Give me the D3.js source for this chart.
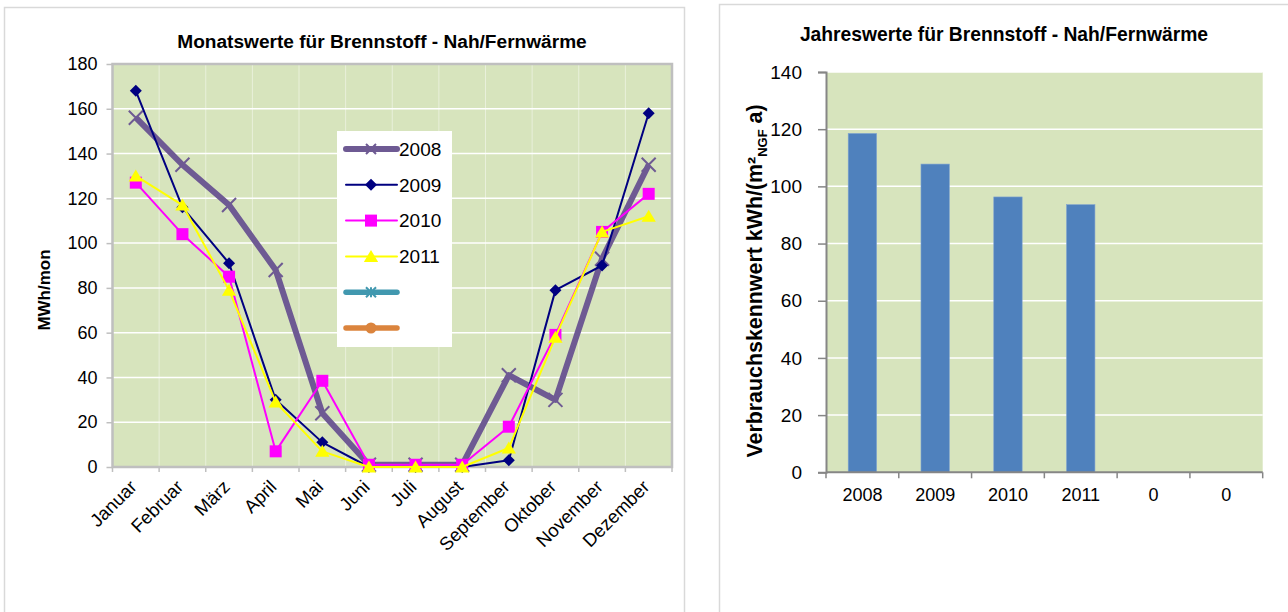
<!DOCTYPE html>
<html>
<head>
<meta charset="utf-8">
<script src="https://cdn.jsdelivr.net/npm/d3@7"></script>
<style>
  html, body { margin: 0; padding: 0; background: #ffffff; }
  svg { display: block; }
  text { font-family: Arial, "Liberation Sans", sans-serif; }
</style>
</head>
<body>
<svg id="chart" width="1288" height="612"></svg>
<script>
// ---- monthly district-heating consumption (MWh/mon) ----
const months = ["Januar", "Februar", "März", "April", "Mai", "Juni", "Juli",
                "August", "September", "Oktober", "November", "Dezember"];
const values2008 = [156, 135, 117, 88, 24, 1, 1, 1, 41, 30, 93, 135];
const values2009 = [168, 116, 91, 30, 11, 0, 0, 0, 3, 79, 90, 158];
const values2010 = [127, 104, 85, 7, 38.5, 1, 1, 1, 18, 59, 105, 122];
const values2011 = [130, 117, 79, 29, 7, 0, 0, 0, 8.5, 58, 105, 112];
const monthTicks = [0, 20, 40, 60, 80, 100, 120, 140, 160, 180];
const legendLabels = ["2008", "2009", "2010", "2011", "", ""];

// ---- yearly consumption index kWh/(m² NGF a) ----
const yearLabels = ["2008", "2009", "2010", "2011", "0", "0"];
const yearValues = [118.5, 107.8, 96.3, 93.6, 0, 0];
const yearTicks = [0, 20, 40, 60, 80, 100, 120, 140];

const svg = d3.select("#chart");
const plotFill = "#D7E4BD";

// chart frames
svg.append("rect").attr("x", 4.5).attr("y", 7.5).attr("width", 680).attr("height", 620)
  .attr("fill", "#fff").attr("stroke", "#d9d9d9").attr("stroke-width", 1.5);
svg.append("rect").attr("x", 719.5).attr("y", 4.5).attr("width", 620).attr("height", 620)
  .attr("fill", "#fff").attr("stroke", "#d9d9d9").attr("stroke-width", 1.5);

// ================= monthly line chart =================
const L = { x0: 112.5, x1: 672, y0: 64, y1: 467 };
const xM = d3.scaleBand().domain(months).range([L.x0, L.x1]).padding(0);
const yM = d3.scaleLinear().domain([0, 180]).range([L.y1, L.y0]);
const cx = m => xM(m) + xM.bandwidth() / 2;

const left = svg.append("g");
left.append("text").attr("x", 382).attr("y", 48).attr("text-anchor", "middle")
  .attr("font-weight", "bold").attr("font-size", 19.1)
  .text("Monatswerte für Brennstoff - Nah/Fernwärme");

left.append("rect").attr("x", L.x0).attr("y", L.y0)
  .attr("width", L.x1 - L.x0).attr("height", L.y1 - L.y0).attr("fill", plotFill);

// vertical category grid (faint) and horizontal value grid
left.append("g").selectAll("line").data(months.slice(1)).join("line")
  .attr("x1", d => xM(d)).attr("x2", d => xM(d))
  .attr("y1", L.y0).attr("y2", L.y1)
  .attr("stroke", "#ffffff").attr("stroke-opacity", 0.45).attr("stroke-width", 1);
left.append("g").selectAll("line").data(monthTicks.slice(1, -1)).join("line")
  .attr("x1", L.x0).attr("x2", L.x1)
  .attr("y1", d => yM(d)).attr("y2", d => yM(d))
  .attr("stroke", "#ffffff").attr("stroke-width", 1.5);

left.append("rect").attr("x", L.x0).attr("y", L.y0)
  .attr("width", L.x1 - L.x0).attr("height", L.y1 - L.y0)
  .attr("fill", "none").attr("stroke", "#BFBFBF").attr("stroke-width", 2.5);

// y axis
const yAxisM = left.append("g").attr("transform", `translate(${L.x0},0)`)
  .call(d3.axisLeft(yM).tickValues(monthTicks).tickSize(6).tickPadding(9));
yAxisM.select(".domain").remove();
yAxisM.selectAll(".tick line").attr("stroke", "#BFBFBF").attr("stroke-width", 1.5);
yAxisM.selectAll(".tick text").attr("font-size", 18).attr("fill", "#000")
  .attr("font-family", "Arial, 'Liberation Sans', sans-serif");

// category boundary ticks
const bounds = months.map(m => xM(m)).concat([L.x1]);
left.append("g").selectAll("line").data(bounds).join("line")
  .attr("x1", d => d).attr("x2", d => d).attr("y1", L.y1).attr("y2", L.y1 + 5)
  .attr("stroke", "#BFBFBF").attr("stroke-width", 1.5);

// rotated month labels
const xAxisM = left.append("g").attr("transform", `translate(0,${L.y1})`)
  .call(d3.axisBottom(xM).tickSize(0));
xAxisM.select(".domain").remove();
xAxisM.selectAll(".tick text")
  .attr("font-size", 18.5).attr("fill", "#000")
  .attr("font-family", "Arial, 'Liberation Sans', sans-serif")
  .attr("text-anchor", "end").attr("dy", null)
  .attr("transform", "translate(2,21) rotate(-45)")
  .attr("y", 0).attr("x", 0);

left.append("text").attr("transform", "translate(50,290) rotate(-90)")
  .attr("text-anchor", "middle").attr("font-weight", "bold").attr("font-size", 17)
  .text("MWh/mon");

// marker shapes
const markers = {
  cross: (g, c, s) => g.append("path")
    .attr("d", `M${-s},${-s}L${s},${s}M${-s},${s}L${s},${-s}`)
    .attr("stroke", c).attr("stroke-width", 2).attr("fill", "none"),
  diamond: (g, c, s) => g.append("path")
    .attr("d", `M0,${-s}L${s},0L0,${s}L${-s},0Z`).attr("fill", c),
  square: (g, c, s) => g.append("rect")
    .attr("x", -s).attr("y", -s).attr("width", 2 * s).attr("height", 2 * s).attr("fill", c),
  triangle: (g, c, s) => g.append("path")
    .attr("d", `M0,${-s}L${s * 1.1},${s * 0.85}L${-s * 1.1},${s * 0.85}Z`).attr("fill", c),
  star: (g, c, s) => g.append("path")
    .attr("d", `M${-s},${-s}L${s},${s}M${-s},${s}L${s},${-s}M0,${-s}L0,${s}`)
    .attr("stroke", c).attr("stroke-width", 2).attr("fill", "none"),
  circle: (g, c, s) => g.append("circle").attr("r", s).attr("fill", c)
};

const series = [
  { values: values2008, color: "#6E5A93", width: 6, marker: "cross", size: 7 },
  { values: values2009, color: "#000080", width: 2, marker: "diamond", size: 6 },
  { values: values2010, color: "#FF00FF", width: 2, marker: "square", size: 6 },
  { values: values2011, color: "#FFFF00", width: 2, marker: "triangle", size: 6.5 }
];
const legendStyle = series.map(s => ({ color: s.color, width: s.width, marker: s.marker, size: s.size }))
  .concat([
    { color: "#4198AF", width: 5.5, marker: "star", size: 5 },
    { color: "#DB843D", width: 5.5, marker: "circle", size: 5.5 }
  ]);

const line = d3.line().x((d, i) => cx(months[i])).y(d => yM(d));
series.forEach(s => {
  const g = left.append("g");
  g.append("path").datum(s.values).attr("d", line)
    .attr("fill", "none").attr("stroke", s.color).attr("stroke-width", s.width)
    .attr("stroke-linejoin", "round");
  s.values.forEach((v, i) => {
    const mg = g.append("g").attr("transform", `translate(${cx(months[i])},${yM(v)})`);
    markers[s.marker](mg, s.color, s.size);
  });
});

// legend
const lg = left.append("g");
lg.append("rect").attr("x", 337).attr("y", 131).attr("width", 115).attr("height", 216).attr("fill", "#fff");
legendStyle.forEach((s, i) => {
  const yy = 149 + i * 35.8;
  lg.append("line").attr("x1", 346).attr("x2", 397).attr("y1", yy).attr("y2", yy)
    .attr("stroke", s.color).attr("stroke-width", s.width).attr("stroke-linecap", "round");
  const mg = lg.append("g").attr("transform", `translate(371,${yy})`);
  markers[s.marker](mg, s.color, s.marker === "cross" ? 5 : s.size);
  lg.append("text").attr("x", 399).attr("y", yy).attr("dy", "0.36em")
    .attr("font-size", 19).attr("fill", "#000").text(legendLabels[i]);
});

// ================= yearly bar chart =================
const R = { x0: 826, x1: 1262.7, y0: 72, y1: 472.3 };
const xY = d3.scaleBand().domain(d3.range(yearLabels.length)).range([R.x0, R.x1])
  .paddingInner(0.61).paddingOuter(0.305);
const yY = d3.scaleLinear().domain([0, 140]).range([R.y1, R.y0]);
const right = svg.append("g");

right.append("text").attr("x", 1004).attr("y", 41).attr("text-anchor", "middle")
  .attr("font-weight", "bold").attr("font-size", 19.3)
  .text("Jahreswerte für Brennstoff - Nah/Fernwärme");

right.append("rect").attr("x", R.x0).attr("y", R.y0)
  .attr("width", R.x1 - R.x0).attr("height", R.y1 - R.y0).attr("fill", plotFill);
right.append("g").selectAll("line").data(yearTicks.slice(1)).join("line")
  .attr("x1", R.x0).attr("x2", R.x1)
  .attr("y1", d => yY(d)).attr("y2", d => yY(d))
  .attr("stroke", "#ffffff").attr("stroke-width", 1.5);

right.append("g").selectAll("rect").data(yearValues).join("rect")
  .attr("x", (d, i) => xY(i)).attr("width", xY.bandwidth())
  .attr("y", d => yY(d)).attr("height", d => yY(0) - yY(d))
  .attr("fill", "#4F81BD").attr("stroke", "#7FA3D0").attr("stroke-width", 0.6);

const yAxisY = right.append("g").attr("transform", `translate(${R.x0},0)`)
  .call(d3.axisLeft(yY).tickValues(yearTicks).tickSize(8).tickPadding(16));
yAxisY.select(".domain").attr("stroke", "#868686").attr("stroke-width", 2);
yAxisY.selectAll(".tick line").attr("stroke", "#868686").attr("stroke-width", 1.5);
yAxisY.selectAll(".tick text").attr("font-size", 19).attr("fill", "#000")
  .attr("font-family", "Lato, 'Open Sans', sans-serif");

const xAxisY = right.append("g").attr("transform", `translate(0,${R.y1})`)
  .call(d3.axisBottom(xY).tickSize(0).tickPadding(16).tickFormat(i => yearLabels[i]));
xAxisY.select(".domain").remove();
xAxisY.selectAll(".tick text").attr("font-size", 18).attr("fill", "#000")
  .attr("font-family", "Arial, 'Liberation Sans', sans-serif");
right.append("line").attr("x1", R.x0).attr("x2", R.x1).attr("y1", R.y1).attr("y2", R.y1)
  .attr("stroke", "#868686").attr("stroke-width", 2);
const yBounds = d3.range(yearLabels.length + 1).map(i => R.x0 + i * xY.step());
right.append("g").selectAll("line").data(yBounds).join("line")
  .attr("x1", d => d).attr("x2", d => d).attr("y1", R.y1).attr("y2", R.y1 + 6)
  .attr("stroke", "#868686").attr("stroke-width", 1.5);

const yt = right.append("text").attr("transform", "translate(762,281) rotate(-90)")
  .attr("text-anchor", "middle").attr("font-weight", "bold").attr("font-size", 21.4)
  .attr("font-family", "Lato, 'Open Sans', sans-serif");
yt.append("tspan").text("Verbrauchskennwert kWh/(m²");
yt.append("tspan").attr("font-size", 13).attr("dy", 5).text("NGF");
yt.append("tspan").attr("dy", -5).text(" a)");
</script>
</body>
</html>
